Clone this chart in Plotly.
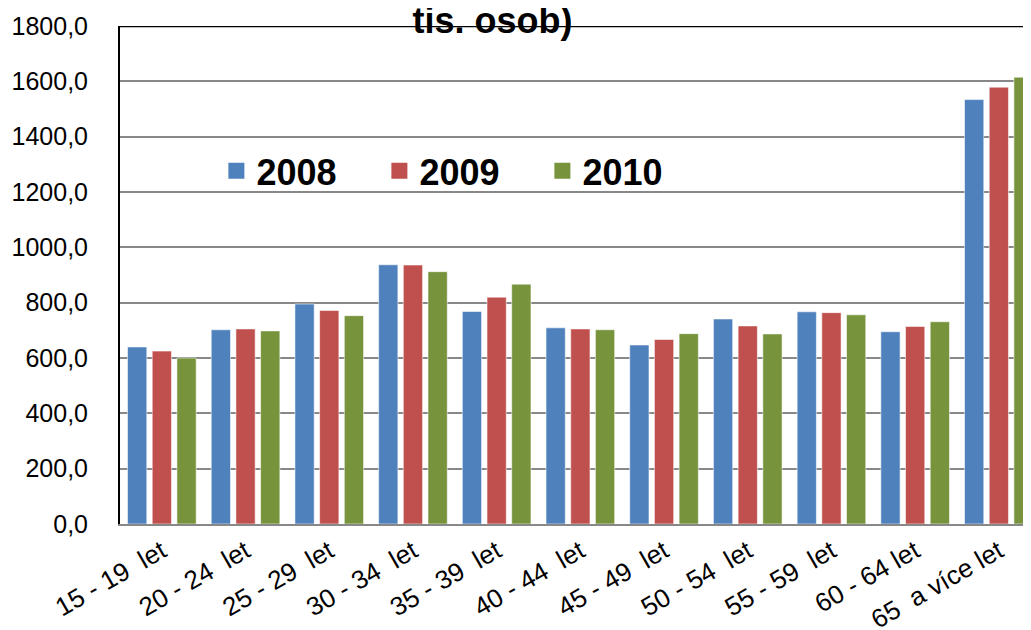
import plotly.graph_objects as go

NB = "\u00a0"
categories = ["15 - 19  let", "20 - 24  let", "25 - 29  let", "30 - 34  let", "35 - 39  let",
              "40 - 44  let", "45 - 49  let", "50 - 54  let", "55 - 59  let", "60 - 64 let",
              "65  a více let"]
v2008 = [640, 702, 795, 937, 768, 709, 647, 741, 767, 695, 1534]
v2009 = [625, 705, 772, 936, 820, 705, 667, 716, 764, 714, 1579]
v2010 = [600, 698, 753, 912, 867, 702, 688, 687, 756, 731, 1615]
series_names = ["2008", "2009", "2010"]
colors = ["#4F81BD", "#C0504D", "#77933C"]
tick_vals = [0, 200, 400, 600, 800, 1000, 1200, 1400, 1600, 1800]

FONT = "Liberation Sans, Arial, sans-serif"

# The page body has an 8px margin; size the figure so it fills the window.
W, H = 1023, 622

fig = go.Figure()
for name, vals, col in zip(series_names, [v2008, v2009, v2010], colors):
    fig.add_trace(go.Bar(
        x=list(range(len(categories))), y=vals, name=name, showlegend=False,
        marker=dict(color=col, line=dict(color="rgba(255,255,255,0.55)", width=1)),
    ))
    fig.add_trace(go.Scatter(
        x=[None], y=[None], mode="markers", name=name,
        marker=dict(symbol="square", size=19, color=col),
    ))

fig.update_layout(
    width=W, height=H,
    margin=dict(l=112, r=0, t=18, b=106, autoexpand=False),
    paper_bgcolor="white", plot_bgcolor="white",
    separators=", ",
    barmode="group", bargap=0.115, bargroupgap=0.22,
    font=dict(family=FONT, color="black"),
    title=dict(text="<b>tis. osob)</b>", font=dict(size=36, family=FONT, color="black"),
               x=484.5 / W, xanchor="center", xref="container",
               y=1 - 12 / H, yanchor="middle", yref="container"),
    legend=dict(orientation="h", x=0.1058, xanchor="left", y=0.709, yanchor="middle",
                font=dict(size=36, family=FONT, color="black", weight="bold"),
                entrywidth=118, entrywidthmode="pixels",
                bgcolor="rgba(0,0,0,0)", itemsizing="trace"),
    xaxis=dict(
        tickmode="array", tickvals=list(range(len(categories))),
        ticktext=[c.replace("  ", " " + NB) for c in categories],
        range=[-0.5, -0.5 + 911 / 83.7], tickangle=-30, automargin=False,
        tickfont=dict(size=26, family=FONT, color="black"),
        showgrid=False, showline=True, linecolor="#888888", linewidth=2,
        ticks="", zeroline=False,
    ),
    yaxis=dict(
        range=[0, 1800], tickvals=tick_vals, tickformat=".1f", automargin=False,
        tickfont=dict(size=25, family=FONT, color="black"),
        showgrid=True, gridcolor="#888888", gridwidth=1.5,
        showline=True, linecolor="black", linewidth=2,
        ticks="", ticklabelstandoff=25, zeroline=False,
    ),
)
fig.add_shape(type="line", xref="paper", yref="y", x0=0, x1=1, y0=1800, y1=1800,
              line=dict(color="black", width=2.5), layer="above")

fig.write_html("out.html")
